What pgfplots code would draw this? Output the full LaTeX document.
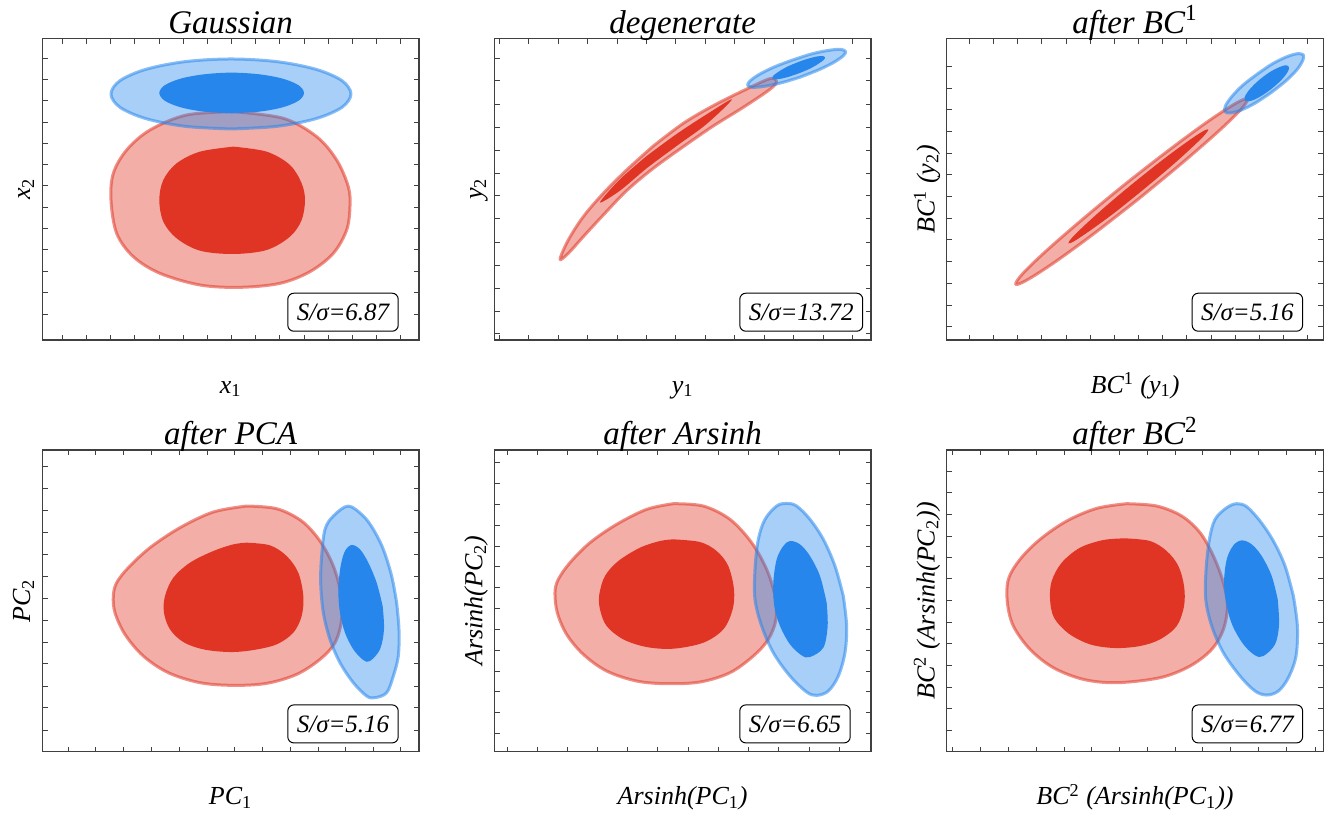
\documentclass[border=0pt]{standalone}
\usepackage{fontspec}
\setmainfont{Liberation Serif}
\usepackage{pgfplots}
\pgfplotsset{compat=1.18}
\definecolor{cRed}{RGB}{224,53,36}
\definecolor{cBlue}{RGB}{38,134,236}
\pgfplotsset{
  panel/.style={scale only axis, width=188.35pt, height=150.85pt,
    xticklabels={}, yticklabels={}, tick align=inside, major tick length=2.6pt,
    axis line style={black!75, line width=0.6pt},
    tick style={black!75, line width=0.5pt},
    every axis title shift=0pt,
    title style={at={(axis description cs:0.5,1.0166)}, anchor=base, font=\fontsize{16.5}{18}\selectfont\itshape},
    xlabel style={at={(axis description cs:0.5,-0.1757)}, anchor=base, font=\fontsize{13}{15}\selectfont\itshape},
    ylabel style={at={(axis description cs:-0.032,0.5)}, anchor=base, font=\fontsize{13}{15}\selectfont\itshape},
    clip=true},
  rO/.style={smooth, tension=0.55, fill=cRed, fill opacity=0.4, draw=cRed, draw opacity=0.55, line width=1.5pt, line join=round, mark=none},
  rI/.style={smooth, tension=0.55, fill=cRed, draw=none, mark=none},
  bO/.style={smooth, tension=0.55, fill=cBlue, fill opacity=0.4, draw=cBlue, draw opacity=0.55, line width=1.5pt, line join=round, mark=none},
  bI/.style={smooth, tension=0.55, fill=cBlue, draw=none, mark=none},
}
\tikzset{sbox/.style={draw=black, rounded corners=3pt, fill=white, line width=0.5pt, anchor=south west, minimum height=19pt, inner xsep=4.5pt, font=\fontsize{12.5}{14}\selectfont\itshape}}
\begin{document}
\begin{tikzpicture}
\useasboundingbox (0,0) rectangle (665pt,-408pt);
% ---------------- Top left: Gaussian
\begin{axis}[panel, at={(21.15pt,-170pt)}, anchor=south west,
  xmin=127, xmax=1257, ymin=-1020, ymax=-115,
  xtick={187,260,333,405,478,550,623,695,768,840,913,985,1058,1130,1203},
  ytick={-175,-240,-303,-367,-430,-495,-558,-622,-686,-750,-814,-878,-942},
  title={Gaussian}, xlabel={x\textsubscript{\upshape 1}}, ylabel={x\textsubscript{\upshape 2}}]
\addplot[rO] coordinates {(700,-335) (850,-355) (950,-410) (1010,-480) (1045,-560) (1050,-620) (1040,-690) (1000,-760) (930,-815) (840,-850) (720,-862) (600,-855) (480,-820) (400,-770) (350,-700) (333,-600) (340,-520) (380,-450) (450,-390) (560,-345) (700,-335)};
\addplot[rI] coordinates {(700,-440) (800,-455) (870,-495) (905,-550) (915,-600) (905,-660) (870,-710) (800,-750) (700,-762) (600,-752) (530,-715) (490,-665) (478,-600) (490,-540) (530,-490) (600,-455) (700,-440)};
\addplot[bO] coordinates {(693,-387) (555,-379) (438,-356) (360,-322) (333,-282) (360,-242) (438,-208) (555,-185) (693,-177) (831,-185) (948,-208) (1026,-242) (1053,-282) (1026,-322) (948,-356) (831,-379) (693,-387)};
\addplot[bI] coordinates {(695,-340) (612,-335) (542,-322) (494,-302) (478,-279) (494,-256) (542,-236) (612,-223) (695,-218) (778,-223) (848,-236) (896,-256) (912,-279) (896,-302) (848,-322) (778,-335) (695,-340)};
\node[sbox] at (rel axis cs:0.6504,0.0275) {S/σ=6.87};
\end{axis}
% ---------------- Top middle: degenerate
\begin{axis}[panel, at={(247.15pt,-170pt)}, anchor=south west,
  xmin=163, xmax=1293, ymin=-1020, ymax=-115,
  xtick={178,265,355,443,532,620,708,797,885,973,1062,1150,1238},
  ytick={-175,-243,-313,-382,-451,-520,-588,-657,-727,-795,-865,-933,-1000},
  title={degenerate}, xlabel={y\textsubscript{\upshape 1}}, ylabel={y\textsubscript{\upshape 2}}]
\addplot[rO] coordinates {(640,-438) (730,-370) (820,-317) (910,-272) (990,-236) (1010,-245) (990,-268) (910,-322) (820,-378) (730,-440) (640,-505) (560,-572) (490,-645) (430,-710) (385,-760) (360,-778) (385,-720) (430,-650) (490,-580) (560,-510) (640,-438)};
\addplot[rI] coordinates {(620,-468) (710,-402) (800,-343) (876,-298) (800,-372) (710,-438) (620,-505) (540,-572) (480,-607) (540,-538) (620,-468)};
\addplot[bO] coordinates {(1079,-232) (1022,-249) (973,-259) (938,-262) (923,-256) (931,-242) (960,-222) (1005,-200) (1061,-179) (1118,-161) (1167,-151) (1202,-148) (1217,-155) (1209,-168) (1180,-188) (1135,-210) (1079,-232)};
\addplot[bI] coordinates {(1082,-218) (1051,-229) (1024,-236) (1005,-238) (997,-235) (1001,-226) (1016,-215) (1040,-201) (1070,-188) (1101,-177) (1128,-170) (1147,-168) (1155,-172) (1151,-180) (1136,-191) (1112,-205) (1082,-218)};
\node[sbox] at (rel axis cs:0.6504,0.0275) {S/σ=13.72};
\end{axis}
% ---------------- Top right: after BC1
\begin{axis}[panel, at={(473.35pt,-170pt)}, anchor=south west,
  xmin=200, xmax=1330, ymin=-1020, ymax=-115,
  xtick={268,340,413,485,558,630,703,775,848,920,993,1065,1138,1210,1283},
  ytick={-200,-265,-330,-395,-460,-525,-590,-655,-720,-785,-850,-915,-980},
  title={after BC\textsuperscript{\upshape 1}}, xlabel={BC\textsuperscript{\upshape 1} (y\textsubscript{\upshape 1})}, ylabel={BC\textsuperscript{\upshape 1} (y\textsubscript{\upshape 2})}]
\addplot[rO] coordinates {(774,-598) (639,-703) (522,-788) (441,-840) (407,-853) (427,-822) (496,-755) (605,-660) (736,-552) (871,-447) (987,-362) (1069,-309) (1102,-297) (1083,-328) (1014,-395) (905,-490) (774,-598)};
\addplot[rI] coordinates {(786,-572) (705,-637) (634,-689) (585,-722) (565,-730) (577,-712) (619,-671) (685,-612) (764,-546) (846,-481) (916,-429) (965,-396) (985,-388) (973,-406) (931,-447) (865,-506) (786,-572)};
\addplot[bO] coordinates {(1173,-278) (1126,-309) (1084,-330) (1051,-339) (1035,-335) (1036,-318) (1055,-290) (1088,-256) (1132,-222) (1178,-191) (1221,-170) (1253,-161) (1270,-165) (1268,-182) (1250,-210) (1216,-244) (1173,-278)};
\addplot[bI] coordinates {(1174,-267) (1147,-286) (1123,-299) (1105,-304) (1095,-301) (1094,-291) (1104,-274) (1122,-254) (1146,-233) (1173,-214) (1197,-202) (1215,-196) (1225,-199) (1226,-209) (1216,-226) (1198,-246) (1174,-267)};
\node[sbox] at (rel axis cs:0.6504,0.0275) {S/σ=5.16};
\end{axis}
% ---------------- Bottom left: after PCA
\begin{axis}[panel, at={(21.15pt,-375.85pt)}, anchor=south west,
  xmin=127, xmax=1257, ymin=-1027, ymax=-122,
  xtick={205,288,372,455,538,622,705,788,872,955,1038,1120,1203},
  ytick={-172,-238,-303,-370,-435,-500,-567,-632,-698,-763,-830,-895,-962},
  title={after PCA}, xlabel={PC\textsubscript{\upshape 1}}, ylabel={PC\textsubscript{\upshape 2}}]
\addplot[rO] coordinates {(740,-290) (830,-298) (905,-335) (960,-395) (1000,-470) (1022,-550) (1025,-630) (1005,-700) (960,-750) (890,-795) (800,-822) (700,-828) (600,-820) (505,-790) (430,-740) (375,-675) (345,-610) (340,-560) (350,-520) (385,-475) (450,-415) (540,-355) (640,-308) (740,-290)};
\addplot[rI] coordinates {(740,-400) (810,-408) (860,-440) (895,-490) (910,-560) (905,-620) (880,-670) (830,-705) (760,-722) (690,-728) (610,-720) (550,-698) (510,-660) (492,-610) (495,-560) (520,-505) (570,-460) (640,-425) (700,-405) (740,-400)};
\addplot[bO] coordinates {(1190,-580) (1197,-660) (1195,-740) (1180,-800) (1160,-850) (1125,-865) (1100,-860) (1060,-820) (1020,-760) (990,-690) (970,-610) (962,-520) (965,-440) (975,-360) (1000,-320) (1045,-290) (1090,-320) (1120,-360) (1150,-420) (1175,-500) (1190,-580)};
\addplot[bI] coordinates {(1148,-590) (1152,-660) (1140,-720) (1110,-755) (1090,-752) (1060,-720) (1035,-670) (1020,-610) (1015,-540) (1022,-470) (1035,-425) (1055,-407) (1080,-420) (1105,-460) (1130,-520) (1148,-590)};
\node[sbox] at (rel axis cs:0.6504,0.0275) {S/σ=5.16};
\end{axis}
% ---------------- Bottom middle: after Arsinh
\begin{axis}[panel, at={(247.15pt,-375.85pt)}, anchor=south west,
  xmin=163, xmax=1293, ymin=-1027, ymax=-122,
  xtick={202,292,382,472,562,652,745,835,925,1017,1108,1198,1290},
  ytick={-160,-222,-285,-347,-410,-472,-535,-597,-660,-722,-785,-847,-910,-972},
  title={after Arsinh}, xlabel={Arsinh(PC\textsubscript{\upshape 1})}, ylabel={Arsinh(PC\textsubscript{\upshape 2})}]
\addplot[rO] coordinates {(700,-283) (790,-290) (870,-330) (935,-400) (980,-480) (1005,-560) (1008,-630) (985,-690) (940,-740) (870,-790) (780,-818) (680,-823) (590,-815) (500,-785) (430,-735) (380,-675) (352,-610) (345,-550) (355,-510) (390,-460) (450,-400) (530,-345) (620,-300) (700,-283)};
\addplot[rI] coordinates {(700,-390) (780,-398) (830,-425) (865,-470) (882,-540) (878,-600) (850,-660) (790,-700) (700,-718) (620,-713) (550,-690) (500,-650) (480,-600) (478,-555) (495,-500) (535,-455) (600,-415) (660,-395) (700,-390)};
\addplot[bO] coordinates {(1210,-560) (1220,-650) (1215,-730) (1195,-800) (1165,-845) (1130,-858) (1100,-848) (1050,-800) (1000,-730) (965,-650) (945,-570) (945,-480) (955,-390) (975,-330) (1010,-290) (1040,-282) (1070,-290) (1110,-330) (1150,-390) (1185,-470) (1210,-560)};
\addplot[bI] coordinates {(1160,-580) (1163,-650) (1150,-715) (1110,-743) (1085,-738) (1050,-705) (1020,-650) (1003,-590) (1000,-520) (1010,-450) (1030,-410) (1050,-395) (1080,-405) (1110,-440) (1140,-500) (1160,-580)};
\node[sbox] at (rel axis cs:0.6504,0.0275) {S/σ=6.65};
\end{axis}
% ---------------- Bottom right: after BC2
\begin{axis}[panel, at={(473.35pt,-375.85pt)}, anchor=south west,
  xmin=200, xmax=1330, ymin=-1027, ymax=-122,
  xtick={218,302,385,468,552,635,718,802,885,968,1052,1135,1220,1305},
  ytick={-185,-250,-315,-380,-443,-508,-573,-638,-703,-768,-833,-898,-963},
  title={after BC\textsuperscript{\upshape 2}}, xlabel={BC\textsuperscript{\upshape 2} (Arsinh(PC\textsubscript{\upshape 1}))}, ylabel={BC\textsuperscript{\upshape 2} (Arsinh(PC\textsubscript{\upshape 2}))}]
\addplot[rO] coordinates {(740,-283) (830,-290) (905,-320) (960,-370) (1000,-440) (1030,-520) (1042,-590) (1030,-660) (995,-720) (930,-770) (840,-805) (710,-820) (610,-810) (520,-775) (450,-720) (400,-650) (382,-580) (385,-510) (420,-450) (480,-390) (560,-335) (650,-297) (740,-283)};
\addplot[rI] coordinates {(735,-387) (810,-395) (860,-425) (895,-470) (912,-530) (912,-590) (890,-650) (840,-690) (780,-710) (705,-716) (630,-705) (565,-672) (522,-625) (510,-570) (515,-515) (545,-460) (600,-415) (670,-392) (735,-387)};
\addplot[bO] coordinates {(1240,-560) (1252,-650) (1248,-740) (1225,-805) (1195,-845) (1160,-857) (1125,-845) (1080,-800) (1030,-730) (995,-650) (977,-570) (978,-480) (988,-390) (1005,-330) (1040,-295) (1070,-283) (1100,-292) (1140,-335) (1180,-395) (1215,-470) (1240,-560)};
\addplot[bI] coordinates {(1193,-570) (1197,-645) (1185,-705) (1150,-740) (1125,-738) (1090,-705) (1058,-650) (1040,-590) (1032,-520) (1040,-450) (1060,-408) (1085,-393) (1115,-405) (1145,-440) (1175,-500) (1193,-570)};
\node[sbox] at (rel axis cs:0.6504,0.0275) {S/σ=6.77};
\end{axis}
\end{tikzpicture}
\end{document}
